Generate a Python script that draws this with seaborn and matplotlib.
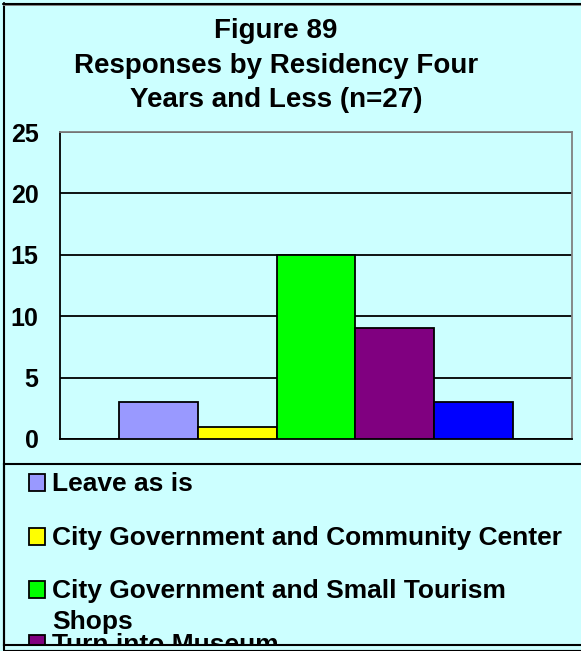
import textwrap
import matplotlib
matplotlib.use("Agg")
import matplotlib.pyplot as plt
from matplotlib.lines import Line2D
from matplotlib.patches import Rectangle
import pandas as pd
import seaborn as sns

# ---- data ----
categories = [
    "Leave as is",
    "City Government and Community Center",
    "City Government and Small Tourism Shops",
    "Turn into Museum",
    "Other",
]
values = [3, 1, 15, 9, 3]
colors = ["#9999FF", "#FFFF00", "#00FF00", "#800080", "#0000FF"]
yticks = [0, 5, 10, 15, 20, 25]
title_lines = ["Figure 89", "Responses by Residency Four", "Years and Less (n=27)"]

sns.set_style("white")
plt.rcParams["font.family"] = ["Liberation Sans", "DejaVu Sans"]
plt.rcParams["font.weight"] = "bold"

W, H = 581, 651
BG = "#CCFFFF"


def fx(x):
    return x / W


def fy(y):
    return 1 - y / H


fig = plt.figure(figsize=(W / 100, H / 100), dpi=100, facecolor=BG)

# ---- main plot ----
ax = fig.add_axes([fx(60), fy(439), (572 - 60) / W, (439 - 132) / H])
ax.set_facecolor(BG)
df = pd.DataFrame({"group": [""] * len(categories), "category": categories, "count": values})
sns.barplot(data=df, x="group", y="count", hue="category", hue_order=categories,
            palette=colors, saturation=1, width=0.77, edgecolor="black",
            linewidth=1.3, ax=ax, legend=False, zorder=3)
ax.set_xlim(-0.5, 0.5)
ax.set_ylim(0, 25)
ax.set_yticks(yticks)
ax.set_yticklabels([str(t) for t in yticks], fontsize=18, fontweight="bold")
ax.set_xticks([-0.5, 0.5])
ax.set_xticklabels(["", ""])
ax.set_xlabel("")
ax.set_ylabel("")
ax.yaxis.grid(True, color="black", lw=1.3)
ax.set_axisbelow(True)
ax.tick_params(axis="y", direction="out", length=6.5, width=1.2, pad=9, colors="black")
ax.tick_params(axis="x", direction="out", length=5, width=1.2, colors="black")
for side in ["left", "bottom"]:
    ax.spines[side].set_color("black")
    ax.spines[side].set_linewidth(1.3)
for side in ["top", "right"]:
    ax.spines[side].set_visible(True)
    ax.spines[side].set_color("#808080")
    ax.spines[side].set_linewidth(1.3)

# ---- title ----
for line, yb in zip(title_lines, [38, 73, 107]):
    fig.text(fx(276), fy(yb), line, ha="center", va="baseline",
             fontsize=20, fontweight="bold", color="black")

# ---- legend box ----
lax = fig.add_axes([fx(4), fy(645), 1 - fx(4), (645 - 464) / H])
lax.set_facecolor(BG)
lax.set_xlim(4, W)
lax.set_ylim(645, 464)
lax.set_xticks([])
lax.set_yticks([])
for side in ["left", "top", "bottom"]:
    lax.spines[side].set_color("black")
    lax.spines[side].set_linewidth(1.5)
lax.spines["right"].set_visible(False)

for i, (label, color) in enumerate(zip(categories, colors)):
    top = 474 + i * 53.7
    lax.add_patch(Rectangle((29, top), 16, 17, facecolor=color, edgecolor="black",
                            lw=1.3, clip_on=True))
    for j, part in enumerate(textwrap.wrap(label, 36)):
        lax.text(52, top + 17 + j * 31, part, ha="left", va="baseline",
                 fontsize=19, fontweight="bold", color="black", clip_on=True)

# ---- outer chart border ----
border = [
    ([3.5, 3.5], [3, 650], "black", 1.5),
    ([3, W], [3.7, 3.7], "black", 1.5),
    ([3, W], [5.3, 5.3], "#808080", 0.7),
    ([3, W], [649.5, 649.5], "black", 0.8),
]
for xs, ys, c, lw in border:
    fig.add_artist(Line2D([fx(x) for x in xs], [fy(y) for y in ys],
                          transform=fig.transFigure, color=c, lw=lw))

fig.savefig("out.png", dpi=100, facecolor=BG)
